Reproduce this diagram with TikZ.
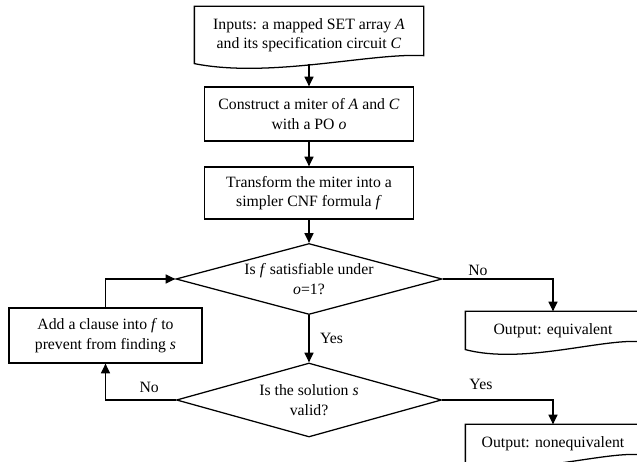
\documentclass[tikz,border=0pt]{standalone}
\usepackage{fontspec}
\setmainfont{Liberation Serif}
\usetikzlibrary{shapes.geometric,arrows.meta,calc}
\begin{document}
\begin{tikzpicture}[x=1cm,y=1cm,
    font=\fontsize{11.2}{13.9}\selectfont,
    line width=0.9pt,
    box/.style={draw,align=center,inner sep=2pt},
    doc/.style={align=center,inner sep=2pt},
    decision/.style={draw,diamond,align=center,inner sep=0pt,aspect=3.7},
    flow/.style={-{Triangle[length=7pt,width=6.5pt]}},
    lbl/.style={inner sep=2pt}]
    \useasboundingbox (0,0) rectangle (15.925,11.55);
    \node[doc,minimum width=5.7cm,minimum height=1.4cm] (input) at (7.725,10.675) {Inputs: a mapped SET array \textit{A}\\and its specification circuit \textit{C}};
    \node[box,minimum width=5.225cm,minimum height=1.35cm] (construct) at (7.725,8.7) {Construct a miter of \textit{A} and \textit{C}\\with a PO \textit{o}};
    \node[box,minimum width=5.225cm,minimum height=1.3cm] (transform) at (7.725,6.725) {Transform the miter into a\\simpler CNF formula \textit{f}};
    \node[decision,minimum width=6.65cm,minimum height=1.775cm] (sat) at (7.725,4.575) {Is \textit{f} satisfiable under\\\textit{o}=1?};
    \node[decision,minimum width=6.625cm,minimum height=1.85cm] (valid) at (7.725,1.55) {Is the solution \textit{s}\\valid?};
    \node[box,minimum width=4.825cm,minimum height=1.375cm] (clause) at (2.6375,3.1625) {Add a clause into \textit{f} to\\prevent from finding \textit{s}};
    \node[doc,minimum width=4.35cm,minimum height=0.925cm] (equiv) at (13.825,3.2875) {Output: equivalent};
    \node[doc,minimum width=4.35cm,minimum height=0.925cm] (nonequiv) at (13.825,0.4625) {Output: nonequivalent};
    \foreach \n in {input,equiv,nonequiv} {
      \draw (\n.south west) -- (\n.north west) -- (\n.north east) -- ([yshift=0.2cm]\n.south east)
        .. controls ($(\n.south west)!0.77!(\n.south east)+(0,0.275)$) and ($(\n.south west)!0.33!(\n.south east)+(0,-0.375)$) .. (\n.south west) -- cycle;
    }
    \draw[flow] (input.south) -- (construct);
    \draw[flow] (construct) -- (transform);
    \draw[flow] (transform) -- (sat);
    \draw[flow] (sat) -- node[lbl,right=5.5pt] {Yes} (valid);
    \draw[flow] (sat.east) -| node[lbl,above,pos=0.16] {No} (equiv.north);
    \draw[flow] (valid.east) -| node[lbl,above=5pt,pos=0.175] {Yes} (nonequiv.north);
    \draw[flow] (valid.west) -| node[lbl,above=3pt,pos=0.19] {No} (clause.south);
    \draw[flow] (clause.north) |- (sat.west);
\end{tikzpicture}
\end{document}
